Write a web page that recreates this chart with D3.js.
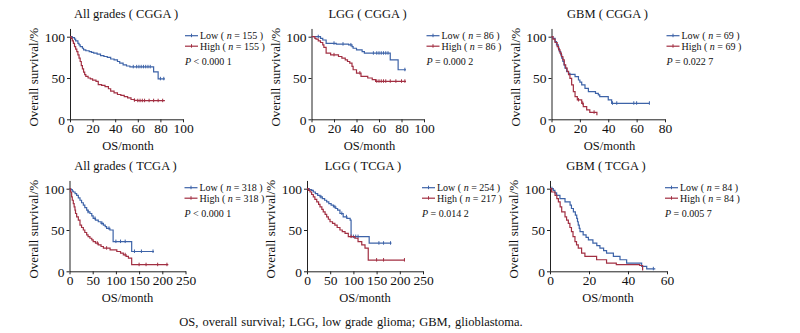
<!DOCTYPE html>
<html>
<head>
<meta charset="utf-8">
<script src="https://cdn.jsdelivr.net/npm/d3@7"></script>
<style>
  html, body { margin: 0; padding: 0; background: #fff; }
  svg { display: block; font-family: "Liberation Serif", "DejaVu Serif", serif; }
</style>
</head>
<body>
<svg id="chart" width="800" height="333"></svg>
<script>
// panel titles, legend counts and p values
const titles = ["All grades ( CGGA )", "LGG ( CGGA )", "GBM ( CGGA )",
                "All grades ( TCGA )", "LGG ( TCGA )", "GBM ( TCGA )"];
const lowN = [155, 86, 69, 318, 254, 84];
const highN = [155, 86, 69, 318, 217, 84];
const pTexts = ["< 0.000 1", "= 0.000 2", "= 0.022 7", "< 0.000 1", "= 0.014 2", "= 0.005 7"];

// tick labels
const yTicks = [0, 50, 100];
const xTicksCgga = [0, 20, 40, 60, 80, 100];
const xTicksGbmCgga = [0, 20, 40, 60, 80];
const xTicksTcga = [0, 50, 100, 150, 200, 250];
const xTicksGbmTcga = [0, 20, 40, 60];

// survival steps [month, %]  and censor times (month)
const allCggaLow = [[0,100],[2,99],[4,97],[5,95],[7,92],[8,90],[9,88],[11,86],[12,84],[14,83],[17,82],[19,81],[21,80],[24,79],[27,77],[30,76],[33,75],[36,73],[39,72],[42,70],[44,68],[47,66],[50,64.5],[53,63.5],[74,57.5],[78,49],[84,49]];
const allCggaHigh = [[0,100],[1,98],[2,95],[3,92],[4,88],[5,85],[6,82],[7,78],[8,74],[9,70],[10,65],[11,61],[12,57],[13,54],[14,52],[16,50],[18,49],[20,47.5],[23,46],[25,42],[28,41],[31,39.5],[34,37],[36,34],[39,32],[42,30],[45,29],[48,27.5],[51,26],[54,24],[57,23],[60,22.5],[84,22.5]];
const allCggaLowCens = [56, 59, 61, 63, 65, 67, 69, 71, 80, 83];
const allCggaHighCens = [57, 60, 62, 64, 66, 70, 74, 78, 82];

const lggCggaLow = [[0,100],[8,98],[10,96],[13,92],[22,91],[33,90],[36,88],[37,86],[40,84],[45,82],[47,80],[70,72],[77,60],[84,60]];
const lggCggaHigh = [[0,100],[3,98],[4,97],[6,95],[8,93],[10,90],[11,87],[13,80],[17,78],[24,76],[27,74],[30,72],[32,70],[34,68],[36,64],[37,60],[40,56],[44,52],[50,50],[54,48],[57,46],[84,46]];
const lggCggaLowCens = [6, 20, 28, 35, 55, 58, 60, 62, 64, 66, 68, 83];
const lggCggaHighCens = [20, 43, 58, 60, 62, 64, 66, 70, 75, 80, 83];

const gbmCggaLow = [[0,100],[1,98],[2.5,94],[3.5,90],[4.8,86],[5.5,82],[6.5,78],[7.2,74],[8,70],[8.8,66],[9.5,62],[10.7,57.6],[12,55.5],[13,54.4],[16.6,51.6],[19,47.6],[20,45],[21.3,41.6],[23.6,37.5],[26,33.5],[31,31.5],[33,29.5],[34,27.4],[40,23.4],[42.4,19.4],[69,19.4]];
const gbmCggaHigh = [[0,100],[1,97],[2.5,93],[4,88],[5,84],[6,80],[7,76],[8,72],[9,66],[10,62],[11,58],[12,54],[13,49.6],[14.2,41.6],[15.4,33.5],[16.6,27.4],[18.2,23.4],[21.3,19.4],[22.4,15.3],[24.8,11.3],[27,8.5],[32,5]];
const gbmCggaLowCens = [43, 46, 58, 60, 69];
const gbmCggaHighCens = [19, 22, 30];

const allTcgaLow = [[0,100],[3,99],[6,97],[8.2,96],[12,94],[15.4,92],[19,89],[22.6,86],[26,83],[29.8,80],[33,77],[37,74],[40,72],[44,70],[48,67],[51,64],[56,62],[62,60],[68,58],[73,56],[77,54],[80,52],[87,50],[94,36],[134,24],[182,24]];
const allTcgaHigh = [[0,100],[2,96],[4.6,90],[6,86],[8.2,82],[10,78],[11.8,74],[13,70],[15.4,66],[19,62],[22.6,56],[26,53],[29.8,50],[33,47],[37,44],[40,42],[44,40],[48,38],[51,36],[56,34],[62,32],[68,30],[73,28],[87.5,26],[102,24],[110,22],[116,20],[122,18],[127,16],[134,8],[213,8]];
const allTcgaLowCens = [40, 55, 70, 85, 100, 110, 120, 140, 155, 180];
const allTcgaHighCens = [60, 80, 120, 150, 165, 190, 210];

const lggTcgaLow = [[0,100],[5,99],[10,98],[13.6,96],[18,94],[23,92],[28,90],[33,88],[38,86],[42.4,84],[47,82],[52,80],[57,78],[62,76],[66,74],[71,70],[78,66],[86,64],[93,62],[95,42],[134,34],[182,34]];
const lggTcgaHigh = [[0,100],[3,98],[6.5,96],[10,93],[13.6,90],[17,87],[21,84],[25,81],[28,78],[32,75],[35,72],[39,69],[42.4,66],[46,63],[49.6,60],[55,58],[60,56],[65,53],[71,50],[76,48],[82,46],[89,42],[103,40],[110,36],[118,32],[125,28],[132,13.6],[211,13.6]];
const lggTcgaLowCens = [30, 60, 75, 85, 100, 105, 110, 155, 165, 180];
const lggTcgaHighCens = [95, 150, 165, 210];

const gbmTcgaLow = [[0,100],[1.7,98],[2.5,95],[3.4,92],[5.1,88],[7.7,84],[10.3,80],[11,76],[12,72],[13,68],[13.7,64],[14.1,60],[14.5,56],[15,52],[15.4,48],[17,44],[18.5,41],[19.7,38],[22,34],[24,31],[25.6,28],[27.5,25],[29,22],[32.5,18],[35.9,14],[39.3,10],[47,6],[49.6,3],[54,3]];
const gbmTcgaHigh = [[0,100],[0.85,96],[2.6,92],[3.5,88],[4.3,84],[5.2,78],[6,72],[7.7,66],[8.5,62],[9.4,58],[10.2,53],[11,48],[11.8,42],[12.8,36],[13.6,32],[14.5,28],[16.2,22],[17.9,18],[23.9,14],[29,10],[34,8],[46,7],[47.5,1]];
const gbmTcgaLowCens = [1, 53];
const gbmTcgaHighCens = [];

const caption = "OS, overall survival; LGG, low grade glioma; GBM, glioblastoma.";

const BLUE = "#3d63a8";
const RED = "#a22f42";

const panels = [
  { x0: 70,    w: 113,   row: 0, ticks: xTicksCgga,    low: allCggaLow, high: allCggaHigh, lc: allCggaLowCens, hc: allCggaHighCens },
  { x0: 311.5, w: 112.5, row: 0, ticks: xTicksCgga,    low: lggCggaLow, high: lggCggaHigh, lc: lggCggaLowCens, hc: lggCggaHighCens },
  { x0: 551.5, w: 113.5, row: 0, ticks: xTicksGbmCgga, low: gbmCggaLow, high: gbmCggaHigh, lc: gbmCggaLowCens, hc: gbmCggaHighCens },
  { x0: 69.5,  w: 116,   row: 1, ticks: xTicksTcga,    low: allTcgaLow, high: allTcgaHigh, lc: allTcgaLowCens, hc: allTcgaHighCens },
  { x0: 307,   w: 116,   row: 1, ticks: xTicksTcga,    low: lggTcgaLow, high: lggTcgaHigh, lc: lggTcgaLowCens, hc: lggTcgaHighCens },
  { x0: 550,   w: 117,   row: 1, ticks: xTicksGbmTcga, low: gbmTcgaLow, high: gbmTcgaHigh, lc: gbmTcgaLowCens, hc: gbmTcgaHighCens }
];
const rowBase = [119.3, 271.3];
const pxPerPct = 0.826;

const svg = d3.select("#chart");

// value of a step curve at time t
function stepAt(curve, t) {
  let s = curve[0][1];
  for (const p of curve) { if (p[0] <= t) s = p[1]; }
  return s;
}

panels.forEach((p, i) => {
  const y0 = rowBase[p.row];
  const xMax = p.ticks[p.ticks.length - 1];
  const x = d3.scaleLinear().domain([0, xMax]).range([p.x0, p.x0 + p.w]);
  const y = d3.scaleLinear().domain([0, 110]).range([y0, y0 - 110 * pxPerPct]);
  const g = svg.append("g");

  // axes
  const xAxis = g.append("g").attr("transform", `translate(0,${y0})`)
    .call(d3.axisBottom(x).tickValues(p.ticks).tickSize(3).tickSizeOuter(0));
  const yAxis = g.append("g").attr("transform", `translate(${p.x0},0)`)
    .call(d3.axisLeft(y).tickValues(yTicks).tickSize(3).tickSizeOuter(0));
  [xAxis, yAxis].forEach(a => {
    a.select(".domain").attr("stroke", "#222").attr("stroke-width", 1);
    a.selectAll(".tick line").attr("stroke", "#222");
    a.selectAll("text").attr("fill", "#111").attr("font-size", 13.5)
      .attr("font-family", "Liberation Serif");
  });
  xAxis.selectAll("text").attr("dy", null).attr("y", 14);
  yAxis.selectAll("text").attr("x", -5).attr("dy", "0.35em");

  // curves
  const line = d3.line().x(d => x(d[0])).y(d => y(d[1])).curve(d3.curveStepAfter);
  [[p.low, p.lc, BLUE], [p.high, p.hc, RED]].forEach(([curve, cens, col]) => {
    g.append("path").datum(curve).attr("d", line)
      .attr("fill", "none").attr("stroke", col).attr("stroke-width", 1.2);
    g.selectAll(null).data(cens).enter().append("line")
      .attr("x1", d => x(d)).attr("x2", d => x(d))
      .attr("y1", d => y(stepAt(curve, d)) - 2)
      .attr("y2", d => y(stepAt(curve, d)) + 1.5)
      .attr("stroke", col).attr("stroke-width", 1);
  });

  // title
  g.append("text").attr("x", p.x0 + 56).attr("y", y0 - 101.5)
    .attr("text-anchor", "middle").attr("font-size", 12.5).attr("fill", "#111")
    .text(titles[i]);

  // axis labels
  g.append("text").attr("x", p.x0 + 58).attr("y", y0 + 31)
    .attr("text-anchor", "middle").attr("font-size", 12.5).attr("fill", "#111")
    .text("OS/month");
  g.append("text")
    .attr("transform", `translate(${p.x0 - 32},${y0 - 42}) rotate(-90)`)
    .attr("text-anchor", "middle").attr("font-size", 13).attr("fill", "#111")
    .text("Overall survival/%");

  // legend
  const y100 = y(100);
  const rows = [["Low", lowN[i], BLUE, y100 - 1], ["High", highN[i], RED, y100 + 9.5]];
  rows.forEach(([lab, n, col, cy]) => {
    g.append("line").attr("x1", p.x0 + 115).attr("x2", p.x0 + 128)
      .attr("y1", cy).attr("y2", cy).attr("stroke", col).attr("stroke-width", 1.2);
    g.append("line").attr("x1", p.x0 + 121.5).attr("x2", p.x0 + 121.5)
      .attr("y1", cy - 2).attr("y2", cy + 1.5).attr("stroke", col);
    const t = g.append("text").attr("x", p.x0 + 130).attr("y", cy + 3.5)
      .attr("font-size", 10).attr("fill", "#111");
    t.append("tspan").text(lab + " ( ");
    t.append("tspan").attr("font-style", "italic").text("n");
    t.append("tspan").text(" = " + n + " )");
  });
  const pt = g.append("text").attr("x", p.x0 + 115).attr("y", y100 + 28)
    .attr("font-size", 10).attr("fill", "#111");
  pt.append("tspan").attr("font-style", "italic").text("P");
  pt.append("tspan").text(" " + pTexts[i]);
});

svg.append("text").attr("x", 351).attr("y", 326).attr("text-anchor", "middle")
  .attr("font-size", 12.5).attr("fill", "#111")
  .attr("word-spacing", 1)
  .text(caption);
</script>
</body>
</html>
